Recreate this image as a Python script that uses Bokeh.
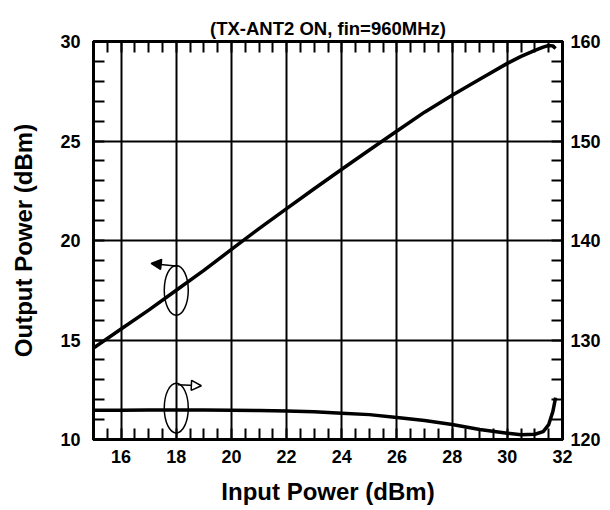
from bokeh.plotting import figure
from bokeh.models import Range1d, LinearAxis, FixedTicker, Arrow, NormalHead, Grid
from bokeh.embed import file_html
from bokeh.resources import INLINE

# ---- data ----
pin = [15, 16, 17, 18, 19, 20, 21, 22, 23, 24, 25, 26, 27, 28, 29, 30, 30.5, 31, 31.3, 31.5, 31.65, 31.75]
pout = [14.6, 15.55, 16.5, 17.5, 18.5, 19.55, 20.6, 21.6, 22.6, 23.58, 24.55, 25.5, 26.45, 27.3, 28.1, 28.9,
        29.25, 29.55, 29.72, 29.8, 29.78, 29.65]
current = [122.93, 122.95, 122.97, 122.97, 122.97, 122.95, 122.92, 122.87, 122.8, 122.65, 122.5, 122.2, 121.9,
           121.5, 121.0, 120.63, 120.47, 120.53, 120.8, 121.5, 122.8, 124.2]

x_ticks = [16, 18, 20, 22, 24, 26, 28, 30, 32]
x_minor = [15 + 0.5 * i for i in range(35)]
y_left_ticks = [10, 15, 20, 25, 30]
y_left_minor = list(range(10, 31))
y_right_ticks = [120, 130, 140, 150, 160]
y_right_minor = list(range(120, 161, 2))
title_text = "(TX-ANT2 ON, fin=960MHz)"
x_label = "Input Power (dBm)"
y_label = "Output Power (dBm)"

FONT = "Liberation Sans"

p = figure(width=609, height=509, x_range=Range1d(15, 32), y_range=Range1d(10, 30),
           output_backend="svg", toolbar_location=None,
           min_border_left=93, min_border_right=47, min_border_top=41, min_border_bottom=70,
           x_axis_type=None, y_axis_type=None)
p.extra_y_ranges = {"right": Range1d(120, 160)}

p.outline_line_color = "black"
p.outline_line_width = 3


def style_axis(ax, labels=True):
    ax.axis_line_color = "black"
    ax.axis_line_width = 3
    ax.major_tick_in = 0
    ax.major_tick_out = 0
    ax.minor_tick_in = 11
    ax.minor_tick_out = 0
    ax.minor_tick_line_width = 2
    ax.minor_tick_line_color = "black"
    ax.major_label_text_font = FONT
    ax.major_label_text_font_style = "bold"
    ax.major_label_text_font_size = "18px"
    ax.major_label_text_color = "black" if labels else None
    ax.axis_label_text_font = FONT
    ax.axis_label_text_font_style = "bold"
    ax.axis_label_text_font_size = "24px"
    ax.axis_label_text_color = "black"


xt = FixedTicker(ticks=x_ticks, minor_ticks=x_minor)
yt = FixedTicker(ticks=y_left_ticks, minor_ticks=y_left_minor)
yrt = FixedTicker(ticks=y_right_ticks, minor_ticks=y_right_minor)

xb = LinearAxis(ticker=xt, axis_label=x_label)
style_axis(xb)
xb.major_label_standoff = 10
xb.axis_label_standoff = 12
p.add_layout(xb, "below")

xa = LinearAxis(ticker=xt)
style_axis(xa, labels=False)
xa.major_label_text_font_size = "1px"
xa.major_label_standoff = 0
p.add_layout(xa, "above")

yl = LinearAxis(ticker=yt, axis_label=y_label)
style_axis(yl)
yl.major_label_standoff = 13
yl.axis_label_standoff = 20
p.add_layout(yl, "left")

yr = LinearAxis(ticker=yrt, y_range_name="right")
style_axis(yr)
yr.major_label_standoff = 8
p.add_layout(yr, "right")

p.add_layout(Grid(dimension=0, ticker=FixedTicker(ticks=x_ticks), grid_line_color="black", grid_line_width=2))
p.add_layout(Grid(dimension=1, ticker=FixedTicker(ticks=y_left_ticks), grid_line_color="black",
                  grid_line_width=2))

p.title.text = title_text
p.title.align = "center"
p.title.vertical_align = "top"
p.title.text_font = FONT
p.title.text_font_style = "bold"
p.title.text_font_size = "18.5px"
p.title.text_color = "black"
p.title.standoff = 2

p.line(pin, pout, line_color="black", line_width=3.5)
p.line(pin, current, line_color="black", line_width=3.5, y_range_name="right")

# annotation ellipses and arrows
p.ellipse(x=[18], y=[17.5], width=0.87, height=2.5, fill_color=None, line_color="black", line_width=1.5)
p.ellipse(x=[18], y=[123.16], width=0.87, height=5.0, fill_color=None, line_color="black", line_width=1.5,
          y_range_name="right")
p.add_layout(Arrow(end=NormalHead(size=10, fill_color="black", line_color="black", line_width=1.5),
                   x_start=18.06, y_start=18.7, x_end=17.09, y_end=18.85,
                   line_color="black", line_width=1.5))
p.add_layout(Arrow(end=NormalHead(size=10, fill_color="white", line_color="black", line_width=1.5),
                   x_start=18.06, y_start=125.5, x_end=18.91, y_end=125.4,
                   line_color="black", line_width=1.5, y_range_name="right"))

open("out.html", "w").write(file_html(p, INLINE))
